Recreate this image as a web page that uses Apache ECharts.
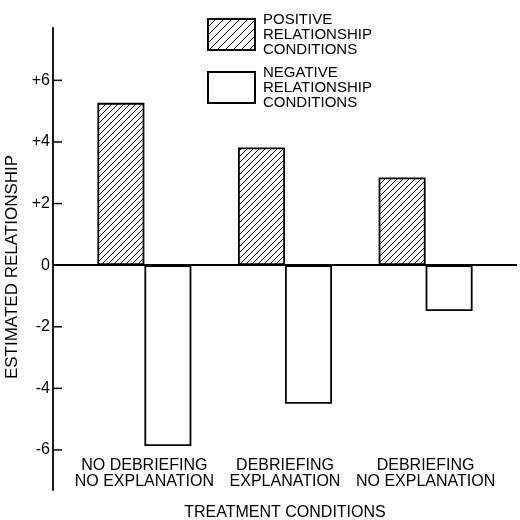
<!DOCTYPE html>
<html><head><meta charset="utf-8">
<script src="https://cdn.jsdelivr.net/npm/echarts@6/dist/echarts.min.js"></script>
<style>html,body{margin:0;padding:0;background:#fff}#c{width:520px;height:520px}</style>
</head><body><div id="c"></div>
<script>
const categories = ['NO DEBRIEFING\nNO EXPLANATION', 'DEBRIEFING\nEXPLANATION', 'DEBRIEFING\nNO EXPLANATION'];
const positiveValues = [5.27, 3.82, 2.85];
const negativeValues = [-5.87, -4.50, -1.49];
const yTicks = [-6, -4, -2, 0, 2, 4, 6];
const seriesNames = ['POSITIVE\nRELATIONSHIP\nCONDITIONS', 'NEGATIVE\nRELATIONSHIP\nCONDITIONS'];
const xAxisTitle = 'TREATMENT CONDITIONS';
const yAxisTitle = 'ESTIMATED RELATIONSHIP';

const FONT = '"Liberation Sans", Arial, sans-serif';
const X_MIN = 0.35, X_MAX = 3.65, Y_MIN = -7.3, Y_MAX = 7.7, TICK_LEN = 9;

function hatch(s) {
  const c = document.createElement('canvas');
  c.width = s; c.height = s;
  const g = c.getContext('2d');
  g.fillStyle = '#fff'; g.fillRect(0, 0, s, s);
  g.strokeStyle = '#000'; g.lineWidth = 1;
  g.beginPath();
  g.moveTo(-1, s + 1); g.lineTo(s + 1, -1);
  g.moveTo(-1, 1); g.lineTo(1, -1);
  g.moveTo(s - 1, s + 1); g.lineTo(s + 1, s - 1);
  g.stroke();
  return c;
}

const positions = categories.map((c, i) => i + 1);
const chart = echarts.init(document.getElementById('c'), null, {renderer: 'canvas'});
chart.setOption({
  animation: false,
  backgroundColor: '#fff',
  grid: {left: 53, right: 3, top: 28, bottom: 30, outerBoundsMode: 'none', containLabel: false},
  legend: {
    orient: 'vertical', left: 202, top: 7,
    itemWidth: 47, itemHeight: 31, itemGap: 8, icon: 'rect',
    data: [
      {name: seriesNames[0], itemStyle: {color: {image: hatch(8), repeat: 'repeat'}}},
      {name: seriesNames[1]}
    ],
    textStyle: {fontSize: 15, lineHeight: 15, color: '#000', fontFamily: FONT, padding: [0, 0, 0, 3]}
  },
  xAxis: {
    type: 'value', min: X_MIN, max: X_MAX, position: 'bottom',
    axisLine: {show: false}, axisTick: {show: false}, splitLine: {show: false},
    axisLabel: {
      inside: true, customValues: positions, margin: 0,
      formatter: v => categories[Math.round(v) - 1],
      color: '#000', fontSize: 16, lineHeight: 16, fontFamily: FONT
    },
    name: xAxisTitle, nameLocation: 'middle', nameGap: 15,
    nameTextStyle: {fontSize: 16, color: '#000', fontFamily: FONT}
  },
  yAxis: {
    type: 'value', min: Y_MIN, max: Y_MAX,
    axisLine: {show: true, onZero: false, lineStyle: {color: '#000', width: 1.8}},
    axisTick: {show: false},
    axisLabel: {show: true, customValues: yTicks, formatter: v => v > 0 ? '+' + v : String(v),
      color: '#000', fontSize: 16, margin: 3, fontFamily: FONT},
    splitLine: {show: false},
    name: yAxisTitle, nameLocation: 'middle', nameGap: 26,
    nameTextStyle: {fontSize: 17, color: '#000', fontFamily: FONT, padding: [0, 16, 0, 0]}
  },
  series: [
    {
      name: seriesNames[0], type: 'bar', barWidth: 47, barGap: '0%',
      data: positiveValues.map((v, i) => [positions[i], v]),
      itemStyle: {color: {image: hatch(6), repeat: 'repeat'}, borderColor: '#000', borderWidth: 1.8},
      markLine: {
        silent: true, symbol: ['none', 'none'], label: {show: false},
        lineStyle: {color: '#000', type: 'solid', width: 1.8},
        data: [{yAxis: 0}]
      }
    },
    {
      name: seriesNames[1], type: 'bar', barWidth: 47, barGap: '0%',
      data: negativeValues.map((v, i) => [positions[i], v]),
      itemStyle: {color: '#fff', borderColor: '#000', borderWidth: 1.8}
    },
    {
      // inward y-axis ticks, placed through the y scale
      name: 'yTicks', type: 'custom', silent: true, clip: false, z: 5,
      data: yTicks.map(v => [X_MIN, v]),
      encode: {x: 0, y: 1},
      renderItem: (params, api) => {
        const p = api.coord([api.value(0), api.value(1)]);
        return {
          type: 'line',
          shape: {x1: p[0], y1: p[1], x2: p[0] + TICK_LEN, y2: p[1]},
          style: {stroke: '#000', lineWidth: 1.5}
        };
      }
    }
  ]
});
</script></body></html>
